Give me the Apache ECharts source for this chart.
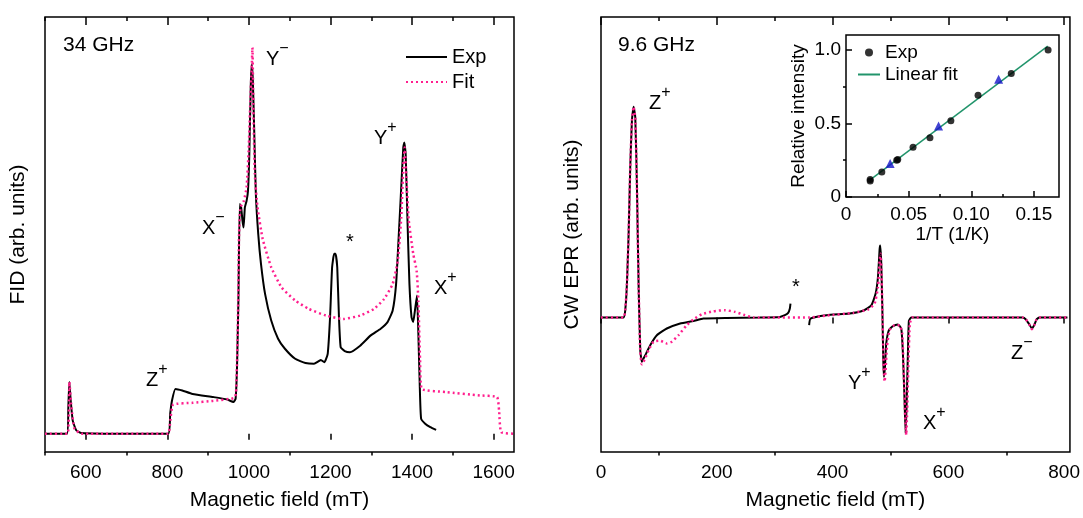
<!DOCTYPE html>
<html>
<head>
<meta charset="utf-8">
<script src="https://cdn.jsdelivr.net/npm/echarts@6/dist/echarts.min.js"></script>
<style>html,body{margin:0;padding:0;background:#fff}#c{width:1083px;height:518px}</style>
</head>
<body>
<div id="c"></div>
<script>
// ---------- 34 GHz panel (FID) ----------
const field34Exp = [500,553.9,557.2,559.7,563,568,576.5,589,700,802,807,811.4,819.8,836.6,861.7,912,945.6,962.4,967.4,970.8,974.2,977.5,980.9,984.2,986.8,990.1,994.3,997.7,1001,1004.4,1006.9,1009.4,1012.8,1017,1022.9,1029.6,1039.6,1054.7,1071.5,1088.3,1113.4,1138.6,1159.6,1176.4,1184.8,1193.2,1199,1204,1209,1212.4,1216.6,1220.8,1225,1235,1247.6,1272.8,1298,1323.1,1339.9,1352.5,1360.9,1367.6,1373.5,1378.5,1381,1384.4,1388.6,1393.6,1398.7,1402.9,1407.1,1412.1,1415.5,1418.8,1422.2,1432.2,1444.8,1459];
const fid34Exp = [0,0,0.069,0.134,0.086,0.034,0.009,0.002,0,0,0.052,0.086,0.116,0.112,0.103,0.095,0.089,0.082,0.091,0.172,0.345,0.595,0.586,0.552,0.534,0.586,0.603,0.629,0.724,0.897,0.957,0.922,0.793,0.621,0.517,0.44,0.362,0.293,0.246,0.22,0.194,0.183,0.181,0.191,0.185,0.207,0.302,0.431,0.466,0.466,0.431,0.302,0.224,0.214,0.211,0.228,0.254,0.272,0.289,0.319,0.388,0.517,0.638,0.741,0.754,0.724,0.56,0.388,0.302,0.289,0.319,0.358,0.259,0.129,0.039,0.026,0.017,0.010];
const field34Fit = [500,555.5,559.7,564.8,572.3,589,801.3,807.2,814,861.7,912,962.4,968.3,972.5,975.8,979.2,987.6,994.3,999.3,1003.5,1006.9,1008.6,1011.1,1014.5,1021.2,1033.8,1054.7,1079.9,1113.4,1147,1188.9,1230.9,1272.8,1306.4,1331.6,1352.5,1365.1,1373.5,1378.5,1381.9,1386.1,1392,1402.9,1411.3,1415.5,1419.7,1423.9,1482.6,1566.5,1608.4,1613.4,1618.5,1650];
const fid34Fit = [0,0,0.134,0.069,0.013,0,0,0.034,0.075,0.080,0.085,0.092,0.103,0.259,0.517,0.586,0.603,0.638,0.733,0.862,0.948,1.0,0.836,0.672,0.586,0.504,0.431,0.379,0.345,0.323,0.306,0.297,0.306,0.323,0.349,0.388,0.448,0.56,0.69,0.741,0.664,0.552,0.466,0.422,0.345,0.19,0.116,0.108,0.099,0.095,0.06,0.004,0];

// ---------- 9.6 GHz panel (CW EPR) ----------
const field96Exp = [0,39,41.9,44.8,47.7,50.5,53.4,56.3,59.2,62,64.9,67.8,70.6,73.5,78.1,85,96.5,113.7,136.7,159.7,176.9,217.1,274.5,309,317.6,323.3,326.2,327.3,340,359.5,361.8,389.4,429.6,452.5,466.9,474.4,478.4,481.3,482.4,484.1,485.9,487.6,488.7,490.5,492.7,497.3,504.2,512.8,518.6,521.5,524.3,526.1,527.8,530.1,531.8,535.8,728.2,734,739.7,744.3,748.3,752.3,756.9,805.7];
const epr96Exp = [0,0,0.035,0.161,0.397,0.713,0.934,1.0,0.95,0.634,0.161,-0.155,-0.21,-0.194,-0.17,-0.131,-0.084,-0.052,-0.028,-0.016,-0.005,-0.002,0,0.003,0.011,0.022,0.043,0.066,null,-0.036,-0.005,0.011,0.019,0.032,0.058,0.114,0.192,0.326,0.342,0.256,0.05,-0.202,-0.281,-0.233,-0.123,-0.06,-0.041,-0.033,-0.052,-0.17,-0.391,-0.549,-0.423,-0.17,-0.016,0,0,-0.009,-0.032,-0.052,-0.036,-0.009,0,0];
const field96Fit = [0,39,41.9,44.8,47.7,50.5,53.4,56.3,59.2,62,64.9,67.8,70.6,76.4,82.1,90.7,102.2,113.7,122.3,133.8,148.2,159.7,174,194.1,214.2,231.4,248.7,263,360.7,389.4,435.3,461.2,472.6,478.4,481.3,483,484.7,486.4,488.2,489.9,491.6,493.9,498.5,507.1,515.7,520.3,523.2,525.5,527.2,528.9,531.2,533.5,537.6,728.2,734,739.7,744.3,748.3,752.3,756.9,805.7];
const epr96Fit = [0,0,0.035,0.161,0.397,0.713,0.934,1.0,0.95,0.634,0.161,-0.16,-0.222,-0.194,-0.155,-0.115,-0.11,-0.123,-0.115,-0.084,-0.036,-0.009,0.016,0.03,0.035,0.027,0.011,0,0,0.009,0.022,0.038,0.066,0.145,0.271,0.303,0.192,-0.013,-0.233,-0.304,-0.249,-0.139,-0.06,-0.036,-0.036,-0.076,-0.281,-0.47,-0.557,-0.438,-0.202,-0.028,0,0,-0.009,-0.032,-0.055,-0.036,-0.009,0,0];

// ---------- inset: relative intensity vs 1/T ----------
const invTExp = [0.0193,0.0193,0.0286,0.0405,0.0413,0.0535,0.0670,0.0837,0.1054,0.1319,0.1613];
const relIntExp = [0.109,0.118,0.170,0.250,0.255,0.337,0.402,0.518,0.691,0.839,0.998];
const invTTri = [0.0352,0.0739,0.1218];
const relIntTri = [0.227,0.482,0.800];
const invTFit = [0.019,0.161];
const relIntFit = [0.115,1.024];

// ---------- tick values ----------
const ticks34Major = [600,800,1000,1200,1400,1600];
const ticks34Minor = [500,700,900,1100,1300,1500];
const ticks96Major = [0,200,400,600,800];
const ticks96Minor = [100,300,500,700];
const insetXMajor = [0,0.05,0.10,0.15];
const insetXMinor = [0.025,0.075,0.125];
const insetYMajor = [0,0.5,1.0];
const insetYMinor = [0.25,0.75];

const FONT = 'Liberation Sans, Arial, Helvetica, sans-serif';
const PINK = '#ff1f8e';
const zip = (xs, ys) => xs.map((x, i) => [x, ys[i] === null ? '-' : ys[i]]);

function mainXAxes(grid, min, max, major, minor) {
  const base = {gridIndex: grid, type: 'value', min, max, splitLine: {show: false}, axisLine: {show: false}};
  return [
    Object.assign({}, base, {
      position: 'bottom',
      axisTick: {show: true, inside: false, length: 6, customValues: major, lineStyle: {color: '#000', width: 1.5}},
      axisLabel: {show: true, customValues: major, margin: 11, color: '#000', fontSize: 19, fontFamily: FONT,
        formatter: v => String(Math.round(v))},
      name: 'Magnetic field (mT)', nameLocation: 'middle', nameGap: 38,
      nameTextStyle: {color: '#000', fontSize: 21, fontFamily: FONT}
    }),
    Object.assign({}, base, {
      position: 'bottom',
      axisTick: {show: true, inside: false, length: 3.5, customValues: minor, lineStyle: {color: '#000', width: 1.5}},
      axisLabel: {show: false}
    }),
    Object.assign({}, base, {
      position: 'top',
      axisTick: {show: true, inside: true, length: 8, customValues: major, lineStyle: {color: '#000', width: 1.5}},
      axisLabel: {show: false}
    }),
    Object.assign({}, base, {
      position: 'top',
      axisTick: {show: true, inside: true, length: 4, customValues: minor, lineStyle: {color: '#000', width: 1.5}},
      axisLabel: {show: false}
    })
  ];
}

function supText(x, y, main, sup) {
  return {
    type: 'text', x, y, silent: true,
    style: {
      text: '{m|' + main + '}{s|' + sup + '}',
      align: 'left', verticalAlign: 'top',
      rich: {
        m: {fontSize: 20, lineHeight: 28, fontFamily: FONT, fill: '#000', color: '#000', verticalAlign: 'bottom'},
        s: {fontSize: 16, lineHeight: 16, fontFamily: FONT, fill: '#000', color: '#000', verticalAlign: 'top'}
      }
    }
  };
}
function plainText(x, y, txt, size) {
  return {type: 'text', x, y, silent: true,
    style: {text: txt, fontSize: size, fontFamily: FONT, fill: '#000', align: 'left', verticalAlign: 'top'}};
}

const chart = echarts.init(document.getElementById('c'), null, {renderer: 'canvas'});
const option = {
  animation: false,
  backgroundColor: '#fff',
  textStyle: {fontFamily: FONT},
  grid: [
    {left: 45, top: 17, width: 469, height: 435, show: true, borderColor: '#000', borderWidth: 1.5, backgroundColor: 'transparent'},
    {left: 601, top: 17, width: 470, height: 435, show: true, borderColor: '#000', borderWidth: 1.5, backgroundColor: 'transparent'},
    {left: 846, top: 35, width: 213, height: 162, show: true, borderColor: '#000', borderWidth: 1.5, backgroundColor: '#fff'}
  ],
  xAxis: [
    ...mainXAxes(0, 500, 1650, ticks34Major, ticks34Minor),
    ...mainXAxes(1, 0, 810, ticks96Major, ticks96Minor),
    {gridIndex: 2, type: 'value', min: 0, max: 0.17, position: 'bottom', splitLine: {show: false}, axisLine: {show: false},
      axisTick: {show: true, inside: true, length: 6, customValues: insetXMajor, lineStyle: {color: '#000', width: 1.5}},
      axisLabel: {show: true, customValues: insetXMajor, margin: 8, color: '#000', fontSize: 19, fontFamily: FONT,
        formatter: v => v === 0 ? '0' : v.toFixed(2)},
      name: '1/T (1/K)', nameLocation: 'middle', nameGap: 24,
      nameTextStyle: {color: '#000', fontSize: 19, fontFamily: FONT}},
    {gridIndex: 2, type: 'value', min: 0, max: 0.17, position: 'bottom', splitLine: {show: false}, axisLine: {show: false},
      axisTick: {show: true, inside: true, length: 3, customValues: insetXMinor, lineStyle: {color: '#000', width: 1.5}},
      axisLabel: {show: false}}
  ],
  yAxis: [
    {gridIndex: 0, type: 'value', min: -0.0474, max: 1.0793, axisLine: {show: false}, axisTick: {show: false},
      axisLabel: {show: false}, splitLine: {show: false},
      name: 'FID (arb. units)', nameLocation: 'middle', nameGap: 16,
      nameTextStyle: {color: '#000', fontSize: 21, fontFamily: FONT}},
    {gridIndex: 1, type: 'value', min: -0.638, max: 1.426, axisLine: {show: false}, axisTick: {show: false},
      axisLabel: {show: false}, splitLine: {show: false},
      name: 'CW EPR (arb. units)', nameLocation: 'middle', nameGap: 18,
      nameTextStyle: {color: '#000', fontSize: 21, fontFamily: FONT}},
    {gridIndex: 2, type: 'value', min: 0, max: 1.1, axisLine: {show: false}, splitLine: {show: false},
      axisTick: {show: true, inside: true, length: 6, customValues: insetYMajor, lineStyle: {color: '#000', width: 1.5}},
      axisLabel: {show: true, customValues: insetYMajor, margin: 5, color: '#000', fontSize: 19, fontFamily: FONT,
        formatter: v => v === 0 ? '0' : v.toFixed(1)},
      name: 'Relative intensity', nameLocation: 'middle', nameGap: 38,
      nameTextStyle: {color: '#000', fontSize: 19, fontFamily: FONT}},
    {gridIndex: 2, type: 'value', min: 0, max: 1.1, axisLine: {show: false}, splitLine: {show: false},
      axisTick: {show: true, inside: true, length: 3, customValues: insetYMinor, lineStyle: {color: '#000', width: 1.5}},
      axisLabel: {show: false}}
  ],
  legend: [
    {orient: 'vertical', left: 405, top: 47, padding: 0, itemGap: 5, itemWidth: 41, itemHeight: 14,
      data: [{name: 'Exp', itemStyle: {opacity: 0}}, {name: 'Fit', itemStyle: {opacity: 0}}],
      textStyle: {color: '#000', fontSize: 20, fontFamily: FONT}, selectedMode: false},
    {orient: 'vertical', left: 857, top: 43, padding: 0, itemGap: 3, itemWidth: 22, itemHeight: 8,
      data: [{name: 'inExp'}, {name: 'inFit', itemStyle: {opacity: 0}}],
      formatter: n => n === 'inExp' ? 'Exp' : 'Linear fit',
      textStyle: {color: '#000', fontSize: 19, fontFamily: FONT}, selectedMode: false}
  ],
  series: [
    {name: 'Exp', type: 'line', xAxisIndex: 0, yAxisIndex: 0, data: zip(field34Exp, fid34Exp),
      symbol: 'none', smooth: 0.15, lineStyle: {color: '#000', width: 2}, itemStyle: {color: '#000'}, z: 3},
    {name: 'Fit', type: 'line', xAxisIndex: 0, yAxisIndex: 0, data: zip(field34Fit, fid34Fit),
      symbol: 'none', smooth: 0.15, lineStyle: {color: PINK, width: 2.5, type: [2, 3]}, itemStyle: {color: PINK}, z: 4},
    {name: 'Exp 9.6 GHz', type: 'line', xAxisIndex: 4, yAxisIndex: 1, data: zip(field96Exp, epr96Exp),
      symbol: 'none', smooth: 0.15, connectNulls: false, lineStyle: {color: '#000', width: 2}, itemStyle: {color: '#000'}, z: 3},
    {name: 'Fit 9.6 GHz', type: 'line', xAxisIndex: 4, yAxisIndex: 1, data: zip(field96Fit, epr96Fit),
      symbol: 'none', smooth: 0.15, lineStyle: {color: PINK, width: 2.5, type: [2, 3]}, itemStyle: {color: PINK}, z: 4},
    {name: 'inFit', type: 'line', xAxisIndex: 8, yAxisIndex: 2, data: zip(invTFit, relIntFit),
      symbol: 'none', lineStyle: {color: '#21946b', width: 1.5}, itemStyle: {color: '#21946b'}, z: 5},
    {name: 'inExp', type: 'scatter', xAxisIndex: 8, yAxisIndex: 2, data: zip(invTExp, relIntExp),
      symbol: 'circle', symbolSize: 7, itemStyle: {color: '#000'}, z: 6},
    {name: 'inTri', type: 'scatter', xAxisIndex: 8, yAxisIndex: 2, data: zip(invTTri, relIntTri),
      symbol: 'triangle', symbolSize: 9, itemStyle: {color: '#1414c8'}, z: 6}
  ],
  graphic: [
    plainText(63, 35, '34 GHz', 21),
    supText(266, 41, 'Y', '−'),
    supText(202, 210, 'X', '−'),
    supText(146, 362, 'Z', '+'),
    supText(374, 120, 'Y', '+'),
    supText(434, 270, 'X', '+'),
    plainText(346, 232, '*', 20),
    plainText(618, 35, '9.6 GHz', 21),
    supText(649, 85, 'Z', '+'),
    supText(848, 365, 'Y', '+'),
    supText(923, 405, 'X', '+'),
    supText(1011, 335, 'Z', '−'),
    plainText(792, 277, '*', 20)
  ]
};
chart.setOption(option);
</script>
</body>
</html>
